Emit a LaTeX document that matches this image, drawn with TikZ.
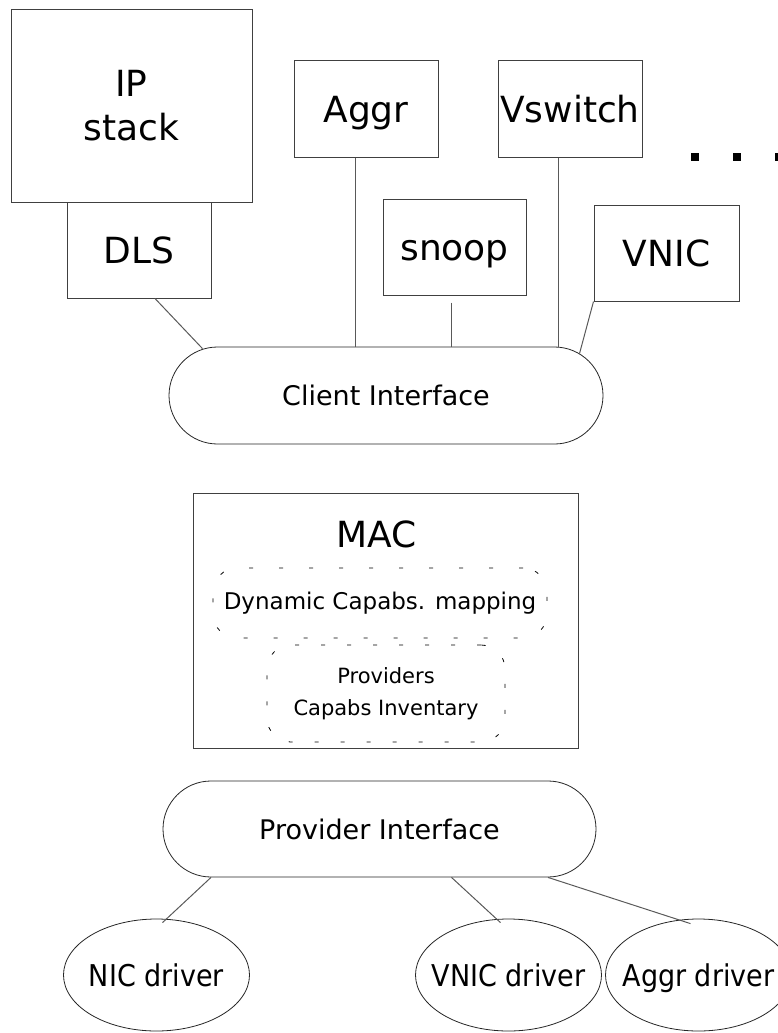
\documentclass[tikz,border=0pt]{standalone}
\usepackage{fontspec}
\setmainfont{DejaVu Sans}
\newfontfamily\condfont{DejaVu Sans}[FakeStretch=0.9]
\usetikzlibrary{shapes.misc,shapes.geometric}

\tikzset{
  block/.style={draw=black!75, line width=1pt, inner sep=0pt, align=center,
    font=\fontsize{36}{44}\selectfont},
  oneline/.style={text height=27pt, text depth=0pt},
  iface/.style={draw=black!85, line width=0.8pt, rounded rectangle, inner sep=0pt,
    font=\fontsize{27}{32}\selectfont},
  capabs/.style={draw=black, line width=0.8pt, rounded corners=24pt,
    dash pattern=on 4pt off 26pt, inner sep=0pt, align=center},
  driver/.style={draw=black!85, line width=0.8pt, ellipse, inner sep=0pt,
    minimum width=186pt, minimum height=112pt,
    label={[font=\condfont\fontsize{30}{36}\selectfont, text height=23pt, text depth=0pt]center:#1}},
  conn/.style={draw=black!65, line width=1pt},
}

\begin{document}
\begin{tikzpicture}[x=1pt, y=-1pt]
    \useasboundingbox (0,0) rectangle (777,1033);
    % clients on top
    \node[block, minimum width=241pt, minimum height=192pt] (ip) at (131.5,106) {IP\\stack};
    \node[block, oneline, minimum width=144pt, minimum height=96pt] (dls) at (139,250) {DLS};
    \node[block, oneline, minimum width=144pt, minimum height=96pt] (aggr) at (366,109) {Aggr};
    \node[block, oneline, minimum width=144pt, minimum height=96pt] (vsw) at (570,109) {Vswitch};
    \node[block, oneline, minimum width=143pt, minimum height=96pt] (snoop) at (454.5,247) {snoop};
    \node[block, oneline, minimum width=145pt, minimum height=96pt] (vnic) at (666.5,253) {VNIC};
    \foreach \x in {695,737,779}{
        \fill (\x,157) +(-4,-4) rectangle +(4,4);
    }
    \node[iface, minimum width=434pt, minimum height=97pt] (ci) at (386,395.5) {Client Interface};
    \draw[conn] ([xshift=16pt]dls.south) -- ([xshift=-15pt,yshift=-2pt]ci.north west);
    \draw[conn] ([xshift=-11pt]aggr.south) -- ([xshift=-11pt]aggr.south |- ci.north);
    \draw[conn] ([xshift=-3pt,yshift=-7pt]snoop.south) -- ([xshift=-3pt]snoop.south |- ci.north);
    \draw[conn] ([xshift=-12pt]vsw.south) -- ([xshift=-12pt]vsw.south |- ci.north);
    \draw[conn] (vnic.south west) -- ([xshift=25pt,yshift=-7pt]ci.north east);
    % the MAC layer
    \node[block, minimum width=385pt, minimum height=255pt] (mac) at (385.5,620.5) {};
    \node[font=\fontsize{36}{44}\selectfont] (mactitle) at (377,534) {MAC};
    \node[capabs, minimum width=334pt, minimum height=70pt,
        font=\fontsize{23}{30}\selectfont] (dyn) at (380,603) {Dynamic Capabs. mapping};
    \node[capabs, minimum width=238pt, minimum height=97pt, dash pattern=on 4pt off 22pt,
        font=\fontsize{21}{32}\selectfont] (prov) at (386,693.5) {Providers\\Capabs Inventary};
    % providers below
    \node[iface, minimum width=433pt, minimum height=96pt] (pif) at (379.5,829) {Provider Interface};
    \node[driver=NIC driver] (nicd) at (156.5,975) {};
    \node[driver=VNIC driver] (vnicd) at (508.5,975) {};
    \node[driver=Aggr driver] (aggrd) at (698.5,975) {};
    \draw[conn] (pif.south west) -- ([xshift=6pt,yshift=-4pt]nicd.north);
    \draw[conn] ([xshift=72pt]pif.south) -- ([xshift=-8pt,yshift=-4pt]vnicd.north);
    \draw[conn] (pif.south east) -- ([xshift=-8pt,yshift=-5pt]aggrd.north);
\end{tikzpicture}
\end{document}
